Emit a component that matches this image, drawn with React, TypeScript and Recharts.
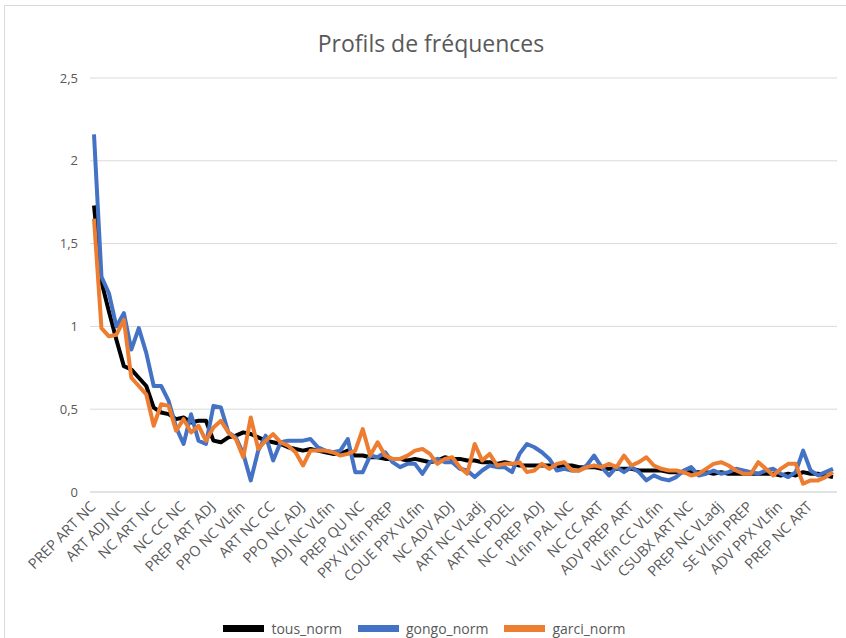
import React from "react";
import { LineChart, Line, XAxis, YAxis, CartesianGrid, Legend } from "recharts";

const tickLabels = [
  "PREP ART NC", "ART ADJ NC", "NC ART NC", "NC CC NC", "PREP ART ADJ",
  "PPO NC VLfin", "ART NC CC", "PPO NC ADJ", "ADJ NC VLfin", "PREP QU NC",
  "PPX VLfin PREP", "COUE PPX VLfin", "NC ADV ADJ", "ART NC VLadj", "ART NC PDEL",
  "NC PREP ADJ", "VLfin PAL NC", "NC CC ART", "ADV PREP ART", "VLfin CC VLfin",
  "CSUBX ART NC", "PREP NC VLadj", "SE VLfin PREP", "ADV PPX VLfin", "PREP NC ART",
];

const tousNorm = [
  1.73, 1.27, 1.09, 0.92, 0.76, 0.74, 0.69, 0.64, 0.51, 0.48, 0.47, 0.44, 0.45, 0.42, 0.43, 0.43, 0.31, 0.30, 0.33, 0.34, 0.36, 0.35, 0.33,
  0.31, 0.30, 0.29, 0.27, 0.26, 0.25, 0.26, 0.25, 0.24, 0.23, 0.23, 0.25, 0.22, 0.22, 0.21, 0.21, 0.20,
  0.20, 0.20, 0.19, 0.20, 0.19, 0.18, 0.19, 0.21, 0.20, 0.20, 0.19, 0.19, 0.18, 0.18, 0.17, 0.18, 0.17, 0.16, 0.16, 0.16,
  0.16, 0.16, 0.15, 0.16, 0.16, 0.15, 0.15, 0.15, 0.14, 0.14, 0.14, 0.14, 0.14, 0.13, 0.13, 0.13, 0.13, 0.12, 0.12, 0.12,
  0.12, 0.12, 0.12, 0.11, 0.12, 0.11, 0.11, 0.11, 0.11, 0.11, 0.11, 0.11, 0.10, 0.11, 0.10, 0.12, 0.11, 0.11, 0.10, 0.09,
];

const gongoNorm = [
  2.16, 1.30, 1.20, 1.00, 1.08, 0.86, 0.99, 0.84, 0.64, 0.64, 0.55, 0.39, 0.29, 0.47, 0.31, 0.29, 0.52, 0.51, 0.36, 0.33, 0.23, 0.07, 0.25,
  0.34, 0.19, 0.30, 0.31, 0.31, 0.31, 0.32, 0.27, 0.25, 0.24, 0.25, 0.32, 0.12, 0.12, 0.22, 0.21, 0.24,
  0.18, 0.15, 0.17, 0.17, 0.11, 0.18, 0.20, 0.18, 0.18, 0.14, 0.13, 0.09, 0.13, 0.16, 0.15, 0.15, 0.12, 0.23, 0.29, 0.27,
  0.24, 0.20, 0.13, 0.14, 0.13, 0.13, 0.16, 0.22, 0.15, 0.10, 0.15, 0.12, 0.15, 0.12, 0.07, 0.10, 0.08, 0.07, 0.09, 0.13,
  0.15, 0.10, 0.11, 0.13, 0.11, 0.12, 0.14, 0.13, 0.12, 0.11, 0.13, 0.14, 0.11, 0.09, 0.12, 0.25, 0.13, 0.10, 0.12, 0.14,
];

const garciNorm = [
  1.65, 0.99, 0.94, 0.95, 1.04, 0.69, 0.64, 0.59, 0.40, 0.53, 0.52, 0.37, 0.44, 0.36, 0.40, 0.31, 0.39, 0.43, 0.36, 0.32, 0.21, 0.45, 0.26,
  0.31, 0.35, 0.30, 0.28, 0.24, 0.16, 0.25, 0.25, 0.25, 0.24, 0.22, 0.23, 0.25, 0.38, 0.22, 0.30, 0.22,
  0.20, 0.20, 0.22, 0.25, 0.26, 0.23, 0.17, 0.20, 0.21, 0.15, 0.11, 0.29, 0.19, 0.23, 0.16, 0.17, 0.17, 0.18, 0.12, 0.13,
  0.17, 0.14, 0.17, 0.18, 0.13, 0.13, 0.15, 0.16, 0.15, 0.17, 0.15, 0.22, 0.16, 0.18, 0.21, 0.16, 0.14, 0.13, 0.13, 0.12,
  0.10, 0.11, 0.14, 0.17, 0.18, 0.16, 0.13, 0.11, 0.11, 0.18, 0.14, 0.10, 0.14, 0.17, 0.17, 0.05, 0.07, 0.07, 0.09, 0.12,
];

const yTicks = [0, 0.5, 1, 1.5, 2, 2.5];

const seriesNames = ["tous_norm", "gongo_norm", "garci_norm"];
const seriesColors = ["#000000", "#4472C4", "#ED7D31"];

const data = tousNorm.map((v, i) => ({
  cat: i % 4 === 0 ? tickLabels[i / 4] : "",
  tous_norm: v,
  gongo_norm: gongoNorm[i],
  garci_norm: garciNorm[i],
}));

const FONT = "'Open Sans', 'Noto Sans', sans-serif";
const TEXT = "#595959";

const XTick = (props: any) => {
  const { x, y, payload } = props;
  if (!payload.value) return null;
  const tx = x - 1;
  const ty = y + 10;
  return (
    <text
      x={tx}
      y={ty}
      transform={`rotate(-45 ${tx} ${ty})`}
      textAnchor="end"
      dy="0.35em"
      fill={TEXT}
      fontSize={14.5}
      fontFamily={FONT}
    >
      {payload.value}
    </text>
  );
};

const LegendContent = () => (
  <div
    style={{
      display: "flex",
      justifyContent: "center",
      alignItems: "center",
      height: 20,
      fontFamily: FONT,
      fontSize: 14,
      color: TEXT,
      paddingLeft: 28,
    }}
  >
    {seriesNames.map((n, i) => (
      <div key={n} style={{ display: "flex", alignItems: "center", marginRight: 16 }}>
        <div style={{ width: 41, height: 7, background: seriesColors[i], marginRight: 7 }} />
        <span>{n}</span>
      </div>
    ))}
  </div>
);

export default function App() {
  return (
    <div
      style={{
        position: "absolute",
        left: 0,
        top: 0,
        width: 846,
        height: 638,
        overflow: "hidden",
        background: "#fff",
      }}
    >
      <div
        style={{
          position: "absolute",
          left: 4,
          top: 5,
          width: 900,
          height: 700,
          border: "1px solid #d9d9d9",
        }}
      />
      <div
        style={{
          position: "absolute",
          left: 0,
          top: 27,
          width: 862,
          textAlign: "center",
          fontFamily: FONT,
          fontSize: 23,
          color: TEXT,
        }}
      >
        Profils de fréquences
      </div>
      <div style={{ position: "absolute", left: 0, top: 0 }}>
        <LineChart
          width={846}
          height={638}
          data={data}
          margin={{ top: 78, right: 9, bottom: 0, left: 0 }}
        >
          <CartesianGrid horizontal={true} vertical={false} stroke="#d9d9d9" />
          <XAxis
            dataKey="cat"
            interval={3}
            tickLine={false}
            tickSize={0}
            padding={{ left: 4, right: 4 }}
            axisLine={{ stroke: "#d9d9d9" }}
            height={126}
            tick={<XTick />}
          />
          <YAxis
            domain={[0, 2.5]}
            ticks={yTicks}
            width={90}
            axisLine={false}
            tickLine={false}
            tickSize={0}
            tickMargin={12}
            tickFormatter={(v: number) => String(v).replace(".", ",")}
            tick={{ fill: TEXT, fontSize: 13, fontFamily: FONT }}
          />
          <Legend verticalAlign="bottom" height={20} content={<LegendContent />} />
          {seriesNames.map((n, i) => (
            <Line
              key={n}
              type="linear"
              dataKey={n}
              stroke={seriesColors[i]}
              strokeWidth={4}
              strokeLinejoin="round"
              dot={false}
              isAnimationActive={false}
            />
          ))}
        </LineChart>
      </div>
    </div>
  );
}
